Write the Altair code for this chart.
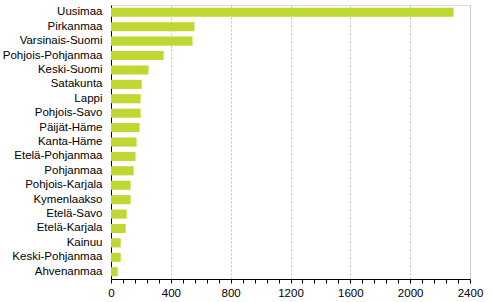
import altair as alt
import pandas as pd

regions = ["Uusimaa", "Pirkanmaa", "Varsinais-Suomi", "Pohjois-Pohjanmaa", "Keski-Suomi",
           "Satakunta", "Lappi", "Pohjois-Savo", "Päijät-Häme", "Kanta-Häme",
           "Etelä-Pohjanmaa", "Pohjanmaa", "Pohjois-Karjala", "Kymenlaakso", "Etelä-Savo",
           "Etelä-Karjala", "Kainuu", "Keski-Pohjanmaa", "Ahvenanmaa"]
values = [2290, 558, 545, 352, 251, 205, 198, 198, 191, 171,
          164, 151, 131, 131, 105, 98, 65, 65, 45]
tick_values = list(range(0, 2401, 80))

df = pd.DataFrame({"region": regions, "value": values})

chart = alt.Chart(df).mark_bar(color="#C0D732").encode(
    x=alt.X("value:Q", title=None,
            scale=alt.Scale(domain=[0, 2400], nice=False, zero=True),
            axis=alt.Axis(values=tick_values,
                          labelExpr="datum.value % 400 === 0 ? datum.label : ''",
                          format="d", labelFlush=False, labelOverlap=False,
                          labelFontSize=11.5, labelColor="#000000", labelFont="Liberation Sans",
                          labelPadding=4,
                          domainColor="#000000", tickColor="#000000", tickSize=4,
                          grid=True, gridDash=[2, 2], gridColor="#C0C0C0",
                          gridOpacity={"condition": {"test": "datum.value % 400 === 0 && datum.value > 0", "value": 1}, "value": 0})),
    y=alt.Y("region:N", title=None, sort=regions,
            scale=alt.Scale(paddingInner=0.37, paddingOuter=0.19),
            axis=alt.Axis(ticks=False, labelFontSize=11.5, labelColor="#000000",
                          labelFont="Liberation Sans", labelPadding=9,
                          domainColor="#000000")),
).properties(
    width=359, height=274,
    autosize=alt.AutoSizeParams(type="none"),
    padding={"left": 111, "top": 5, "right": 22, "bottom": 23},
).configure_view(stroke=None).configure(background="#FFFFFF")

chart.save("out.html", embed_options={"renderer": "svg", "actions": False})
